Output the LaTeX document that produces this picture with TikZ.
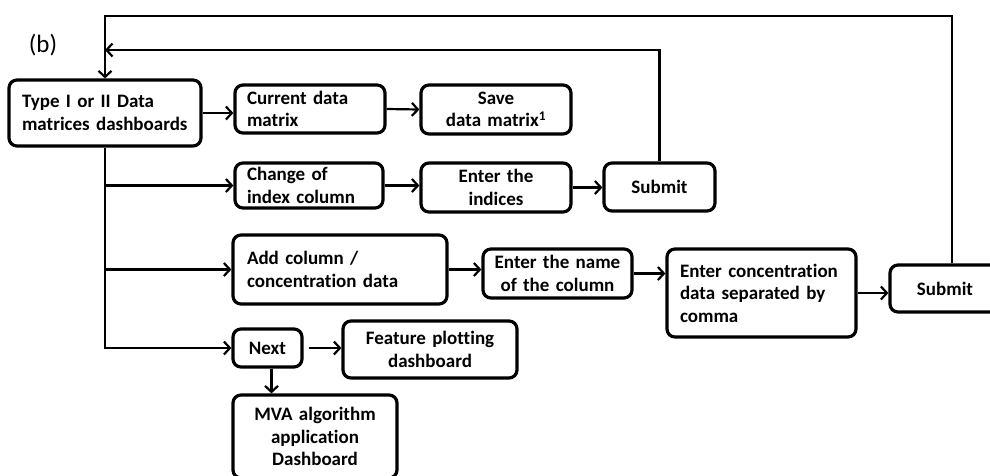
\documentclass[tikz,border=0pt]{standalone}
\usepackage{fontspec}
\setmainfont{Carlito}[Ligatures={NoCommon}]
\usetikzlibrary{arrows.meta}
\begin{document}
\begin{tikzpicture}[x=1pt,y=-1pt,
  box/.style={draw,line width=3.2pt,rounded corners=8pt,inner sep=0pt,
    font=\fontsize{19}{22.5}\selectfont\bfseries},
  arr/.style={line width=2.2pt,-{Straight Barb[length=6pt,width=13pt]}},
  ln/.style={line width=2.2pt}]
\fill[white] (0,0) rectangle (990,475);
\clip (0,0) rectangle (990,475);
\useasboundingbox (0,0) rectangle (990,475);

\node[font=\fontsize{25}{29}\selectfont] (lab) at (43,45) {(b)};

\node[box,minimum width=192pt,minimum height=66pt,text width=166pt,align=left] (A) at (105,113) {Type I or II Data\\matrices dashboards};
\node[box,minimum width=150pt,minimum height=48pt,text width=126pt,align=left] (cur) at (310,109) {Current data\\matrix};
\node[box,minimum width=150pt,minimum height=49pt,text width=140pt,align=center] (save) at (496,109.5) {Save\\data matrix\textsuperscript{1}};
\node[box,minimum width=148pt,minimum height=45pt,text width=124pt,align=left] (chg) at (309,185.5) {Change of\\index column};
\node[box,minimum width=150pt,minimum height=49pt,text width=140pt,align=center] (ind) at (496,187.5) {Enter the\\indices};
\node[box,minimum width=111pt,minimum height=48pt,align=center] (sub1) at (659.5,187) {Submit};
\node[box,minimum width=214pt,minimum height=69pt,text width=186pt,align=left] (add) at (340,269.5) {Add column /\\concentration data};
\node[box,minimum width=149pt,minimum height=49pt,text width=145pt,align=center] (name) at (557.5,273.5) {Enter the name\\of the column};
\node[box,minimum width=189pt,minimum height=88pt,text width=163pt,align=left] (conc) at (761.5,293) {Enter concentration\\data separated by\\comma};
\node[box,minimum width=110pt,minimum height=47pt,align=center] (sub2) at (945,288.5) {Submit};
\node[box,minimum width=69pt,minimum height=38pt,align=center] (next) at (267.5,348) {Next};
\node[box,minimum width=174pt,minimum height=57pt,text width=164pt,align=center] (feat) at (430,349.5) {Feature plotting\\dashboard};
\node[box,minimum width=164pt,minimum height=83pt,text width=154pt,align=center] (mva) at (315,436.5) {MVA algorithm\\application\\Dashboard};

\coordinate (l1) at (105,50);
\coordinate (l2) at (105,16);

% trunk
\draw[arr] (A.south) |- (next.west);
\draw[arr] (A.south |- chg.west) -- (chg.west);
\draw[arr] (A.south |- add.west) -- (add.west);

\draw[arr] (A.east) -- (A.east -| cur.west);
\draw[arr] (cur.east) -- (save.west);
\draw[arr] (chg.east) -- (chg.east -| ind.west);
\draw[arr] (ind.east) -- (ind.east -| sub1.west);
\draw[arr] (add.east) -- (add.east -| name.west);
\draw[arr] (name.east) -- (name.east -| conc.west);
\draw[arr] (conc.east) -- (conc.east -| sub2.west);
\draw[arr] ([xshift=5pt]next.east) -- (next.east -| feat.west);
\draw[arr] ([xshift=4pt]next.south) -- ([xshift=4pt]next.south |- mva.north);

% loops
\draw[arr] (sub1.north) |- (l1);
\draw[arr] ([xshift=7pt]sub2.north) |- (l2) -- (A.north);
\end{tikzpicture}
\end{document}
